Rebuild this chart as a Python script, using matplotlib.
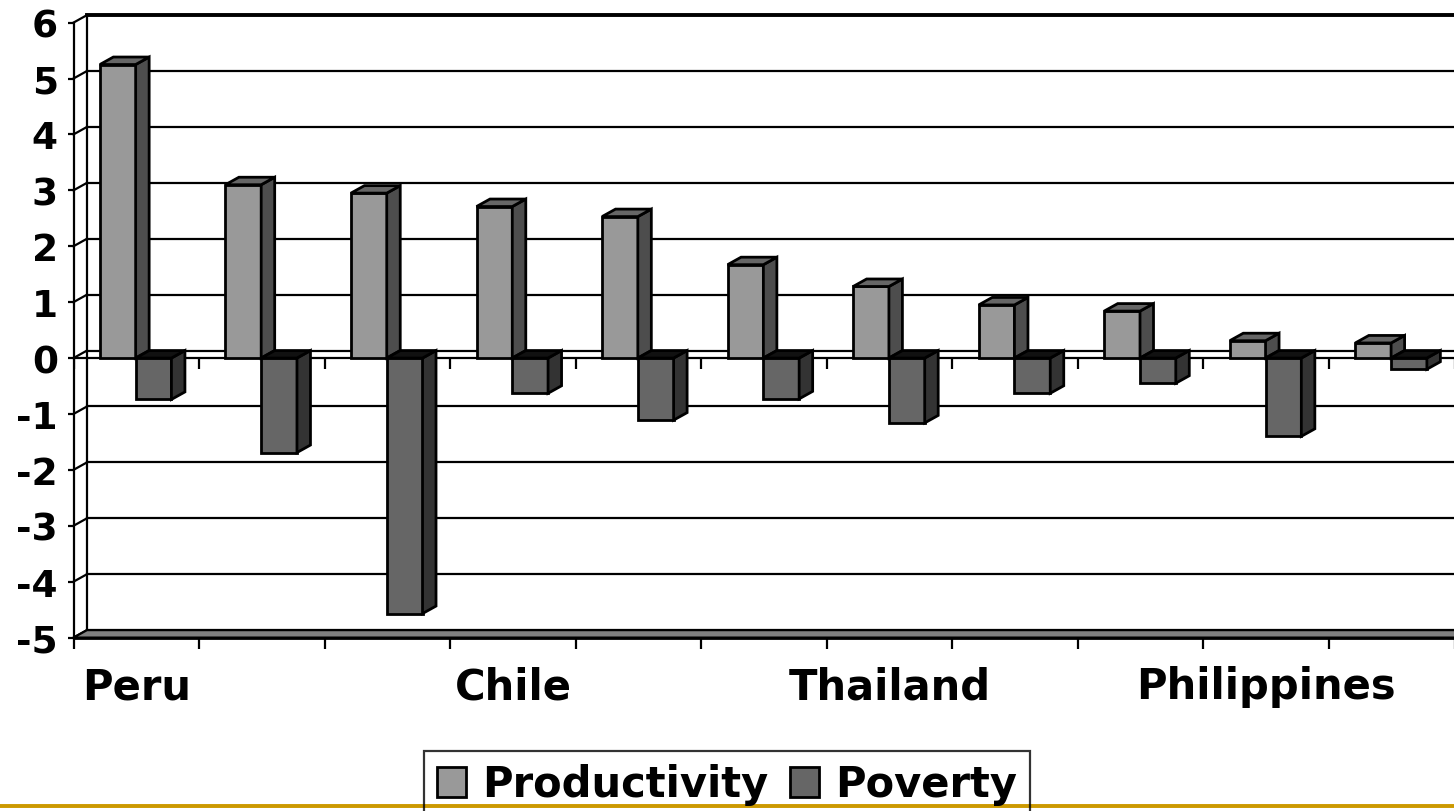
import numpy as np
import matplotlib
matplotlib.use('Agg')
import matplotlib.pyplot as plt
from matplotlib.patches import Polygon, Patch
from matplotlib.lines import Line2D

# data
countries = ['Peru', '', '', 'Chile', '', '', 'Thailand', '', '', 'Philippines', '']
productivity = [5.25, 3.1, 2.95, 2.71, 2.53, 1.67, 1.28, 0.95, 0.84, 0.31, 0.27]
poverty = [-0.74, -1.69, -4.57, -0.63, -1.11, -0.73, -1.16, -0.63, -0.45, -1.40, -0.20]
y_ticks = list(range(-5, 7))

plt.rcParams['font.family'] = 'DejaVu Sans'
plt.rcParams['font.weight'] = 'bold'

W, H = 1454, 812
fig = plt.figure(figsize=(W / 100, H / 100), dpi=100)
ax = fig.add_axes([73.5 / W, (H - 638.6) / H, 1381 / W, 615 / H])
n = len(countries)
ax.set_xlim(-0.5, n - 0.5)
ax.set_ylim(-5, 6)

# depth of the fake 3d look, in data units (13.5 px right, 7.5 px up)
DX = 13.5 / 125.55
DY = 7.5 / 55.9
lw = 1.6
blw = 2.0
x_lo, x_hi = -0.5, n - 0.5

# back wall gridlines
for v in y_ticks:
    ax.plot([x_lo + DX, x_hi + DX], [v + DY, v + DY], color='k',
            lw=2.8 if v == y_ticks[-1] else lw, clip_on=False, zorder=1)
    # side wall diagonals
    ax.plot([x_lo, x_lo + DX], [v, v + DY], color='k', lw=lw, clip_on=False, zorder=1)
ax.plot([x_lo + DX, x_lo + DX], [-5 + DY, 6 + DY], color='k', lw=lw, clip_on=False, zorder=1)

# floor
ax.add_patch(Polygon([(x_lo, -5), (x_hi, -5), (x_hi + DX, -5 + DY), (x_lo + DX, -5 + DY)],
                     closed=True, fc='#808080', ec='k', lw=lw, clip_on=False, zorder=1.5))

# zero plane front edge and its ticks
bounds = np.arange(n + 1) - 0.5
ax.axhline(0, color='k', lw=lw, zorder=1.8)
ax.plot(bounds, np.zeros(len(bounds)), ls='none', marker=3, ms=8, mew=lw, color='k', zorder=1.8)


def bar3d(x0, w, v, front, side, top, z):
    lo, hi = min(0, v), max(0, v)
    ax.bar(x0, v, w, align='edge', color=front, edgecolor='k', linewidth=blw, zorder=z)
    ax.add_patch(Polygon([(x0 + w, lo), (x0 + w + DX, lo + DY), (x0 + w + DX, hi + DY), (x0 + w, hi)],
                         closed=True, fc=side, ec='k', lw=blw, zorder=z, joinstyle='miter'))
    ax.add_patch(Polygon([(x0, hi), (x0 + w, hi), (x0 + w + DX, hi + DY), (x0 + DX, hi + DY)],
                         closed=True, fc=top, ec='k', lw=blw, zorder=z, joinstyle='miter'))


bw = 0.285
for i in range(n):
    bar3d(i - bw - 0.005, bw, productivity[i], '#999999', '#4d4d4d', '#666666', 3 + 0.02 * i)
    bar3d(i - 0.005, bw, poverty[i], '#666666', '#333333', '#111111', 3.01 + 0.02 * i)

# axes
ax.spines['top'].set_visible(False)
ax.spines['right'].set_visible(False)
ax.spines['left'].set_linewidth(lw)
ax.spines['bottom'].set_linewidth(2)
ax.spines['left'].set_zorder(2)
ax.spines['bottom'].set_zorder(2)

ax.set_yticks(y_ticks)
ax.set_yticklabels([str(v) for v in y_ticks])
ax.tick_params(axis='y', length=4.3, width=lw, pad=7, labelsize=27)
ax.set_xticks(bounds)
ax.set_xticklabels([])
ax.tick_params(axis='x', which='major', length=8, width=lw)
ax.set_xticks(np.arange(n), countries, minor=True)
ax.tick_params(axis='x', which='minor', length=0, pad=20, labelsize=30)
for t in ax.get_yticklabels() + ax.get_xticklabels(minor=True):
    t.set_fontweight('bold')

# legend
handles = [Patch(fc='#999999', ec='k', lw=blw), Patch(fc='#666666', ec='k', lw=blw)]
leg = fig.legend(handles, ['Productivity', 'Poverty'], loc='upper center',
                 bbox_to_anchor=(0.5, 1 - 752 / H), ncol=2, fancybox=False,
                 edgecolor='k', facecolor='none', framealpha=None,
                 prop={'size': 30, 'weight': 'bold'}, handlelength=0.7, handleheight=0.7,
                 handletextpad=0.4, columnspacing=0.5, borderpad=0.3, borderaxespad=0)
leg.get_frame().set_linewidth(lw)

# gold rule at the bottom of the slide
fig.add_artist(Line2D([0, 1], [1 - 807 / H, 1 - 807 / H], color='#CC9900', lw=2.8,
                      transform=fig.transFigure, zorder=1))

fig.savefig('out.png', dpi=100, facecolor='white')
